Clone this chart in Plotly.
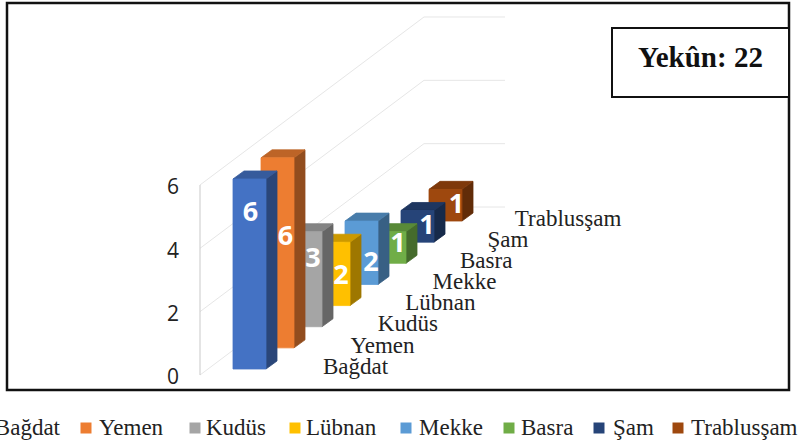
import plotly.graph_objects as go

categories = ["Bağdat", "Yemen", "Kudüs", "Lübnan", "Mekke", "Basra", "Şam", "Trablusşam"]
values = [6, 6, 3, 2, 2, 1, 1, 1]
total_label = "Yekûn: 22"
value_ticks = [0, 2, 4, 6]

front_colors = ["#4472C4", "#ED7D31", "#A5A5A5", "#FFC000", "#5B9BD5", "#70AD47", "#264478", "#9E480E"]
label_levels = [4.96, 3.55, 2.18, 0.98, 0.72, 0.66, 0.56, 0.56]
label_shift = [1, 8, 7.5, 7.5, 9.5, 8.5, 9.5, 11]
legend_swatch_x = [None, 86, 195, 295, 406, 509, 599, 678]
legend_text_x = [60, 99, 206, 306, 419, 521, 613, 691]

W, H = 798, 443
UNIT = 31.67          # px per value unit
ZERO_PY = 377         # axis zero, where the tick labels sit
WALL_DROP = 2         # the walls start this many px above the tick-label zero
BAR_W = 33
STEP_X, STEP_Y = 28.0, 21.14
SIDE_X, SIDE_Y = 11, 8
BAR0_X, BAR0_PY = 233, 369
WALL_X = 200
CORNER_X = 424
BACK_X = 505
WALL_SLOPE = 168


def v_of(py):
    return (ZERO_PY - py) / UNIT


def shade(hex_color, f):
    r, g, b = (int(hex_color[i:i + 2], 16) for i in (1, 3, 5))
    return f"rgb({int(r * f)},{int(g * f)},{int(b * f)})"


fig = go.Figure()


def poly(xs, ys, color, edge=None):
    fig.add_trace(go.Scatter(
        x=xs + xs[:1], y=ys + ys[:1], mode="lines", fill="toself", fillcolor=color,
        line=dict(color=edge or color, width=0.8), hoverinfo="skip", showlegend=False))


def line(xs, ys, color, width=1):
    fig.add_trace(go.Scatter(x=xs, y=ys, mode="lines", line=dict(color=color, width=width),
                             hoverinfo="skip", showlegend=False))


# walls
wall0 = WALL_DROP / UNIT
for t in value_ticks:
    front = t + wall0
    back = front + WALL_SLOPE / UNIT
    line([WALL_X, CORNER_X, BACK_X], [front, back, back], "#e6e6e6")
line([WALL_X, WALL_X], [wall0, 6 + wall0], "#c9c9c9")

# bars, back to front
base = []
for i, v in enumerate(values):
    base.append((BAR0_X + STEP_X * i, v_of(BAR0_PY) + STEP_Y * i / UNIT))
dv = SIDE_Y / UNIT
for i in reversed(range(len(values))):
    x0, b = base[i]
    v = values[i]
    c = front_colors[i]
    x1 = x0 + BAR_W
    poly([x1, x1 + SIDE_X, x1 + SIDE_X, x1], [b, b + dv, b + v + dv, b + v], shade(c, 0.62))
    poly([x0, x1, x1 + SIDE_X, x0 + SIDE_X], [b + v, b + v, b + v + dv, b + v + dv], shade(c, 0.8))
    poly([x0, x1, x1, x0], [b, b, b + v, b + v], c)

# data labels
fig.add_trace(go.Scatter(
    x=[base[i][0] + BAR_W / 2 + label_shift[i] for i in range(len(values))],
    y=[base[i][1] + label_levels[i] - 2.5 / UNIT for i in range(len(values))],
    mode="text", text=[str(v) for v in values], textposition="middle center",
    textfont=dict(family="Open Sans", size=27, color="white", weight="bold"),
    hoverinfo="skip", showlegend=False))

# category labels on the floor
fig.add_trace(go.Scatter(
    x=[base[i][0] + 90 - i * 0.6 for i in range(len(values))],
    y=[base[i][1] + v_of(368) - v_of(369) for i in range(len(values))],
    mode="text", text=categories, textposition="middle right",
    textfont=dict(family="Liberation Serif", size=23, color="#222222"),
    hoverinfo="skip", showlegend=False))

# legend row
LEG_V = v_of(429)
fig.add_trace(go.Scatter(
    x=[x for x in legend_swatch_x if x is not None],
    y=[v_of(428)] * 7, mode="markers",
    marker=dict(symbol="square", size=11, color=front_colors[1:], line=dict(width=0)),
    hoverinfo="skip", showlegend=False))
fig.add_trace(go.Scatter(
    x=legend_text_x[:1], y=[LEG_V], mode="text", text=categories[:1], textposition="middle left",
    textfont=dict(family="Liberation Serif", size=23, color="#222222"),
    hoverinfo="skip", showlegend=False, cliponaxis=False))
fig.add_trace(go.Scatter(
    x=legend_text_x[1:], y=[LEG_V] * 7, mode="text", text=categories[1:], textposition="middle right",
    textfont=dict(family="Liberation Serif", size=23, color="#222222"),
    hoverinfo="skip", showlegend=False))

fig.update_layout(
    width=W, height=H, margin=dict(l=0, r=0, t=0, b=0), autosize=False,
    paper_bgcolor="white", plot_bgcolor="white",
    xaxis=dict(range=[0, W], domain=[0, 1], visible=False, fixedrange=True),
    yaxis=dict(range=[v_of(H), v_of(0)], domain=[0, 1], anchor="free", position=179 / W,
               tickvals=value_ticks, showgrid=False, zeroline=False, showline=False, ticks="",
               tickfont=dict(family="Open Sans", size=21, color="#222222"), fixedrange=True),
    shapes=[
        dict(type="rect", xref="x", yref="paper", x0=7, x1=789, y0=1 - 390 / H, y1=1 - 3 / H,
             line=dict(color="#111111", width=2.5), layer="below"),
        dict(type="rect", xref="x", yref="paper", x0=612, x1=789, y0=1 - 97 / H, y1=1 - 28 / H,
             line=dict(color="#111111", width=2), fillcolor="white"),
    ],
    annotations=[dict(x=700, xref="x", y=1 - 57 / H, yref="paper", text=f"<b>{total_label}</b>",
                      xanchor="center", yanchor="middle",
                      showarrow=False, font=dict(family="Liberation Serif", size=29, color="#111111"))],
)
fig.write_html("out.html", config={"displayModeBar": False},
               post_script="document.body.style.margin='0';document.documentElement.style.overflow='hidden';")
